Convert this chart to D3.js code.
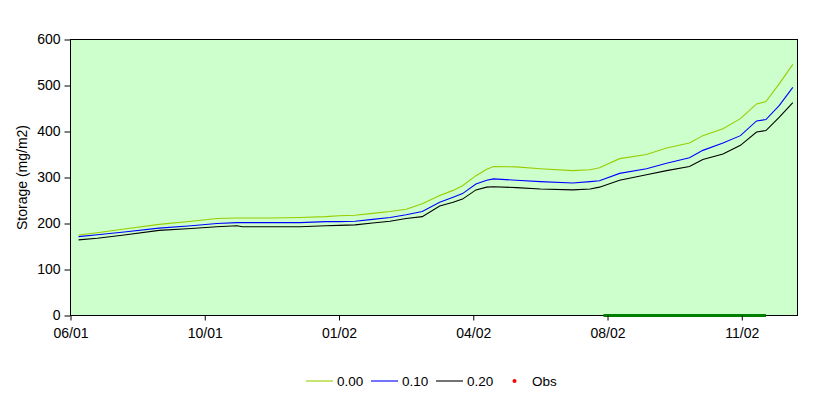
<!DOCTYPE html>
<html>
<head>
<meta charset="utf-8">
<script src="https://cdn.jsdelivr.net/npm/d3@7"></script>
<style>
  body { margin: 0; background: #fff; }
  text { font-family: "Liberation Sans", Arial, sans-serif; }
</style>
</head>
<body>
<svg id="chart" width="832" height="399"></svg>
<script>
const dates = ["2001-07-04","2001-07-18","2001-08-07","2001-09-02","2001-09-26","2001-10-15","2001-10-30","2001-11-03","2001-11-25","2001-12-16","2002-01-04","2002-01-14","2002-01-26","2002-02-08","2002-02-21","2002-03-05","2002-03-17","2002-03-30","2002-04-09","2002-04-16","2002-04-26","2002-05-04","2002-05-09","2002-05-26","2002-06-13","2002-07-07","2002-07-20","2002-07-27","2002-08-11","2002-08-31","2002-09-15","2002-10-02","2002-10-12","2002-10-27","2002-11-09","2002-11-21","2002-11-28","2002-12-08","2002-12-18"];
const s000 = [175,180,188,198,205,211,212,212,212,213,215,217,218,222,226,231,243,261,272,282,304,318,324,323,319,315,317,321,341,350,364,375,391,406,428,460,465,504,546];
const s010 = [171.5,175.5,181.5,190,195,200,202,202,202,202,204,204,205,209,213,219,226,246,257,265,286,294,297,294,291,288,291,293,309,319,331,343,359,375,391,423,426,457,496];
const s020 = [164.5,168,175,185,189,193,195,193,193,193,195,196,197,201,205,211,215,238,246,253,273,279,280,278,275,273,275,279,294,306,315,324,339,351,370,399,402,431,463];
const obsDates = ["2002-07-30","2002-11-28"];
const obsValues = [0,0];
const tickDates = ["2001-06-28","2001-10-06","2002-01-14","2002-04-24","2002-08-02","2002-11-10"];
const yTicks = [0,100,200,300,400,500,600];
const seriesNames = ["0.00","0.10","0.20"];
const seriesColors = ["#99CC00","#0000FF","#000000"];

const parse = d3.timeParse("%Y-%m-%d");
const svg = d3.select("#chart");
const L = 70.5, R = 797.5, T = 39.5, B = 315.5;

const x = d3.scaleTime()
  .domain([parse("2001-06-28"), new Date(2002, 11, 21, 12)])
  .range([L, R]);
const y = d3.scaleLinear().domain([0, 600]).range([B, T]);

svg.append("rect").attr("x", L).attr("y", T).attr("width", R - L).attr("height", B - T)
  .attr("fill", "#CCFFCC").attr("stroke", "#000").attr("stroke-width", 1);

const line = d3.line().x(d => x(d[0])).y(d => y(d[1]));
const series = [s000, s010, s020];
series.forEach((vals, i) => {
  const pts = dates.map((d, j) => [parse(d), vals[j]]);
  svg.append("path").attr("d", line(pts)).attr("fill", "none")
    .attr("stroke", seriesColors[i]).attr("stroke-width", 1.1);
});

// obs period bar
svg.append("path")
  .attr("d", line(obsDates.map((d, j) => [parse(d), obsValues[j]])))
  .attr("stroke", "#008000").attr("stroke-width", 3).attr("fill", "none");

const xAxis = d3.axisBottom(x).tickValues(tickDates.map(parse))
  .tickFormat(d3.timeFormat("%m/%y")).tickSizeOuter(0).tickSizeInner(5).tickPadding(8);
const gx = svg.append("g").attr("transform", `translate(0,${B})`).call(xAxis);
gx.select(".domain").remove();
gx.selectAll("text").attr("font-size", 14).attr("fill", "#000").attr("font-family", "Liberation Sans, Arial, sans-serif");

const yAxis = d3.axisLeft(y).tickValues(yTicks).tickSizeOuter(0).tickSizeInner(6).tickPadding(4);
const gy = svg.append("g").attr("transform", `translate(${L},0)`).call(yAxis);
gy.select(".domain").remove();
gy.selectAll("text").attr("font-size", 14).attr("fill", "#000").attr("font-family", "Liberation Sans, Arial, sans-serif");

svg.append("text").attr("transform", `translate(27,${(T + B) / 2}) rotate(-90)`)
  .attr("text-anchor", "middle").attr("font-size", 14).text("Storage (mg/m2)");

// legend
const legY = 381;
const legX = [306, 371, 436];
seriesNames.forEach((n, i) => {
  svg.append("line").attr("x1", legX[i]).attr("x2", legX[i] + 27).attr("y1", legY).attr("y2", legY)
    .attr("stroke", seriesColors[i]).attr("stroke-width", 1.1);
  svg.append("text").attr("x", legX[i] + 31).attr("y", legY + 5).attr("font-size", 13.5).text(n);
});
svg.append("circle").attr("cx", 514.5).attr("cy", legY).attr("r", 2).attr("fill", "#FF0000");
svg.append("text").attr("x", 532).attr("y", legY + 5).attr("font-size", 13.5).text("Obs");
</script>
</body>
</html>
